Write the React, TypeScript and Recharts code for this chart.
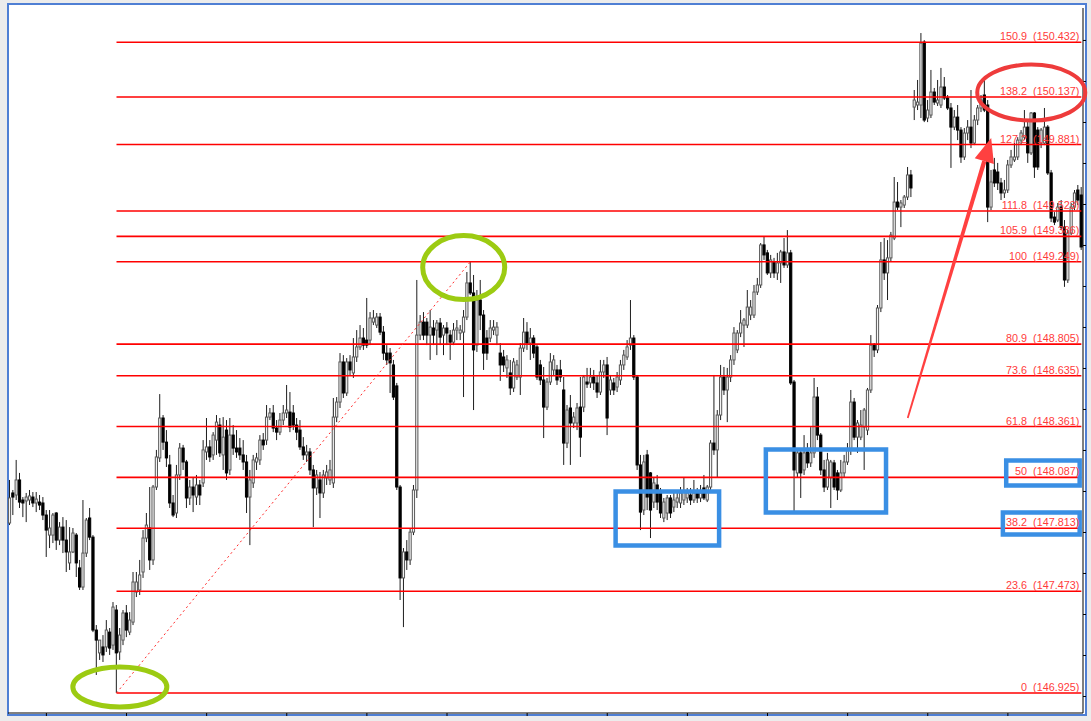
import React from 'react';
import { ComposedChart, Bar, XAxis, YAxis, ReferenceLine, ReferenceArea, ReferenceDot } from 'recharts';

// [open, high, low, close] per hourly candle
const candles: number[][] = [
[147.841,148.073,147.830,147.976],[148.003,148.019,147.884,147.981],[147.992,148.181,147.965,148.073],[148.073,148.111,147.922,147.954],
[147.965,147.981,147.873,147.949],[147.960,148.003,147.846,147.981],[147.965,148.019,147.938,147.987],[147.981,148.008,147.927,147.949],
[147.949,148.008,147.900,147.970],[147.954,147.992,147.911,147.938],[147.949,147.981,147.857,147.884],[147.884,147.911,147.658,147.803],
[147.776,147.911,147.706,147.814],[147.776,147.895,147.733,147.884],[147.895,147.900,147.696,147.749],[147.749,147.846,147.722,147.819],
[147.819,147.873,147.679,147.749],[147.749,147.857,147.577,147.685],[147.626,147.819,147.588,147.685],[147.685,147.814,147.679,147.787],
[147.776,147.787,147.550,147.626],[147.599,147.642,147.480,147.496],[147.496,147.965,147.480,147.679],[147.679,147.868,147.658,147.857],
[147.868,147.922,147.749,147.765],[147.765,147.776,147.253,147.264],[147.264,147.291,147.022,147.210],[147.141,147.173,147.103,147.210],
[147.173,147.237,147.092,147.130],[147.173,147.318,147.146,147.264],[147.253,147.275,147.130,147.167],[147.183,147.415,147.157,147.388],
[147.372,147.399,146.925,147.141],[147.146,147.275,147.103,147.237],[147.210,147.372,147.183,147.356],[147.356,147.399,147.226,147.264],
[147.253,147.361,147.237,147.318],[147.307,147.577,147.291,147.523],[147.469,147.577,147.442,147.523],[147.480,147.642,147.453,147.561],
[147.577,147.803,147.545,147.760],[147.760,147.895,147.738,147.830],[147.814,148.035,147.588,147.642],[147.642,148.046,147.615,148.035],
[148.035,148.235,148.019,148.197],[148.192,148.536,148.170,148.407],[148.407,148.423,148.235,148.277],[148.277,148.342,148.143,148.192],
[148.154,148.208,147.922,147.949],[147.949,147.992,147.873,147.884],[147.895,148.154,147.868,148.100],[148.100,148.272,148.073,148.245],
[148.245,148.262,148.127,148.170],[148.170,148.181,147.922,147.976],[147.976,148.073,147.938,148.035],[148.035,148.084,147.900,147.992],
[147.981,148.100,147.938,148.046],[148.046,148.073,147.938,147.992],[148.057,148.288,148.035,148.235],[148.224,148.407,148.181,148.251],
[148.251,148.288,148.170,148.197],[148.208,148.331,148.181,148.315],[148.288,148.423,148.208,148.385],[148.369,148.407,148.197,148.219],
[148.208,148.412,148.127,148.304],[148.342,148.396,148.073,148.111],[148.127,148.407,148.100,148.315],[148.315,148.369,148.208,148.245],
[148.245,148.342,148.192,148.224],[148.245,148.299,148.181,148.208],[148.208,148.288,148.127,148.170],[148.170,148.208,147.895,147.981],
[147.981,148.127,147.722,148.073],[148.057,148.208,148.030,148.181],[148.170,148.219,148.127,148.192],[148.181,148.315,148.154,148.288],
[148.288,148.326,148.235,148.262],[148.288,148.477,148.262,148.412],[148.412,148.461,148.396,148.434],[148.434,148.477,148.331,148.353],
[148.353,148.396,148.288,148.331],[148.331,148.434,148.315,148.396],[148.396,148.477,148.369,148.434],[148.434,148.585,148.407,148.450],
[148.439,148.547,148.331,148.358],[148.434,148.477,148.342,148.369],[148.369,148.407,148.288,148.331],[148.342,148.396,148.235,148.251],
[148.251,148.304,148.181,148.208],[148.208,148.262,148.170,148.224],[148.224,148.245,148.100,148.127],[148.127,148.154,147.819,148.030],
[148.030,148.127,147.992,148.100],[148.073,148.116,147.868,148.003],[148.003,148.127,147.976,148.100],[148.084,148.154,148.046,148.116],
[148.073,148.181,148.046,148.127],[148.057,148.515,148.030,148.412],[148.412,148.520,148.385,148.493],[148.493,148.757,148.461,148.709],
[148.709,148.746,148.515,148.542],[148.542,148.730,148.526,148.709],[148.709,148.746,148.639,148.666],[148.650,148.838,148.623,148.736],
[148.736,148.881,148.709,148.790],[148.790,148.908,148.774,148.838],[148.838,148.892,148.774,148.800],[148.827,149.054,148.784,148.800],
[148.827,148.978,148.800,148.946],[148.924,148.989,148.908,148.946],[148.908,148.973,148.892,148.951],[148.951,148.973,148.854,148.870],
[148.870,148.903,148.720,148.757],[148.757,148.800,148.693,148.720],[148.757,148.784,148.542,148.704],[148.693,148.720,148.504,148.520],
[148.580,148.596,148.019,148.035],[148.035,148.046,147.426,147.545],[147.545,147.706,147.280,147.685],[147.685,147.749,147.588,147.642],
[147.642,147.814,147.615,147.792],[147.792,148.046,147.776,148.019],[148.019,149.151,147.976,148.854],[148.854,148.962,148.827,148.924],
[148.924,148.978,148.827,148.854],[148.924,148.946,148.800,148.854],[148.854,148.989,148.720,148.897],[148.892,148.935,148.800,148.854],
[148.881,148.935,148.746,148.919],[148.919,148.946,148.800,148.843],[148.854,148.908,148.746,148.892],[148.892,148.924,148.800,148.865],
[148.854,148.881,148.720,148.816],[148.816,148.919,148.800,148.881],[148.881,148.935,148.827,148.892],[148.865,148.908,148.827,148.881],
[148.870,148.989,148.520,148.951],[148.951,149.194,148.935,149.135],[149.135,149.249,149.070,149.081],[149.081,149.178,148.450,148.774],
[148.800,149.097,148.763,149.043],[149.043,149.151,148.881,148.962],[148.962,148.989,148.666,148.757],[148.838,148.881,148.720,148.757],
[148.838,148.935,148.816,148.892],[148.881,148.935,148.854,148.897],[148.854,148.924,148.800,148.897],[148.757,148.811,148.607,148.693],
[148.736,148.774,148.655,148.693],[148.677,148.746,148.623,148.720],[148.650,148.720,148.531,148.569],[148.569,148.730,148.547,148.709],
[148.628,148.720,148.612,148.693],[148.628,148.811,148.531,148.784],[148.784,148.946,148.763,148.870],[148.870,148.924,148.774,148.811],
[148.811,148.892,148.720,148.838],[148.838,148.854,148.730,148.757],[148.790,148.800,148.612,148.628],[148.693,148.720,148.585,148.612],
[148.612,148.682,148.299,148.466],[148.466,148.623,148.450,148.601],[148.601,148.757,148.585,148.709],[148.666,148.746,148.639,148.720],
[148.666,148.693,148.585,148.612],[148.666,148.720,148.601,148.628],[148.558,148.628,148.154,148.272],[148.272,148.477,148.245,148.450],
[148.461,148.531,148.154,148.380],[148.380,148.439,148.353,148.412],[148.380,148.488,148.342,148.461],[148.466,148.628,148.197,148.304],
[148.466,148.639,148.439,148.628],[148.601,148.677,148.569,148.590],[148.596,148.677,148.569,148.628],[148.628,148.666,148.558,148.596],
[148.596,148.639,148.515,148.547],[148.547,148.720,148.531,148.655],[148.655,148.720,148.623,148.693],[148.693,148.736,148.315,148.407],
[148.558,148.639,148.531,148.612],[148.596,148.623,148.531,148.558],[148.574,148.655,148.547,148.628],[148.612,148.720,148.585,148.693],
[148.693,148.774,148.666,148.746],[148.736,148.827,148.720,148.790],[148.800,149.043,148.774,148.838],[148.838,148.854,148.612,148.628],
[148.628,148.639,148.127,148.154],[148.154,148.208,147.803,147.900],[147.911,148.208,147.884,148.170],[148.208,148.235,147.911,147.981],
[148.111,148.116,147.760,147.911],[147.954,148.084,147.922,148.057],[148.046,148.100,147.911,147.954],[148.003,148.030,147.868,147.895],
[147.868,147.976,147.846,147.954],[147.895,147.992,147.857,147.976],[147.976,147.992,147.868,147.895],[147.927,148.003,147.900,147.965],
[147.954,148.003,147.922,147.976],[147.949,148.035,147.922,148.003],[147.965,148.084,147.938,148.008],[147.976,148.030,147.949,148.003],
[147.992,148.030,147.938,147.965],[147.965,148.073,147.949,148.003],[148.003,148.030,147.949,147.976],[147.976,148.046,147.954,148.003],
[148.030,148.100,147.965,147.976],[147.965,148.046,147.954,148.035],[148.035,148.288,148.019,148.272],[148.272,148.639,148.208,148.235],
[148.235,148.450,148.089,148.423],[148.423,148.693,148.396,148.628],[148.628,148.682,148.531,148.558],[148.558,148.677,148.385,148.628],
[148.628,148.746,148.601,148.720],[148.720,148.897,148.693,148.865],[148.774,148.881,148.757,148.865],[148.865,148.989,148.843,148.919],
[148.908,148.946,148.790,148.935],[148.908,149.097,148.892,149.005],[148.962,149.043,148.935,149.005],[148.962,149.124,148.946,149.086],
[149.086,149.162,149.070,149.124],[149.124,149.350,149.108,149.340],[149.340,149.383,149.259,149.286],[149.297,149.313,149.178,149.189],
[149.189,149.286,149.162,149.259],[149.248,149.270,149.162,149.189],[149.189,149.297,149.151,149.243],[149.243,149.313,149.135,149.302],
[149.302,149.377,149.216,149.232],[149.232,149.420,149.216,149.297],[149.297,149.313,148.585,148.596],[148.601,148.612,147.895,148.127],
[148.111,148.235,148.084,148.219],[148.219,148.235,147.976,148.111],[148.127,148.315,148.100,148.219],[148.224,148.272,148.138,148.165],
[148.165,148.358,148.143,148.219],[148.219,148.623,148.192,148.520],[148.520,148.574,148.288,148.315],[148.315,148.326,148.100,148.127],
[148.127,148.181,148.008,148.035],[148.035,148.219,148.019,148.181],[148.084,148.181,147.922,148.170],[148.165,148.181,148.019,148.035],
[148.111,148.127,147.965,148.019],[148.019,148.181,148.008,148.111],[148.111,148.208,148.084,148.170],[148.170,148.272,148.154,148.235],
[148.235,148.558,148.208,148.493],[148.493,148.515,148.288,148.304],[148.304,148.396,148.219,148.380],[148.304,148.450,148.288,148.369],
[148.358,148.461,148.127,148.450],[148.342,148.569,148.315,148.558],[148.558,148.854,148.542,148.800],[148.800,148.811,148.736,148.774],
[148.774,149.016,148.757,149.000],[149.000,149.356,148.978,149.259],[149.259,149.377,149.151,149.189],[149.189,149.366,149.043,149.270],
[149.270,149.410,149.248,149.393],[149.377,149.706,149.366,149.571],[149.571,149.679,149.528,149.544],[149.544,149.582,149.436,149.566],
[149.555,149.609,149.539,149.598],[149.598,149.760,149.582,149.717],[149.717,149.744,149.598,149.647],[150.083,150.175,150.013,150.121],
[150.094,150.229,150.067,150.110],[150.094,150.482,150.024,150.428],[150.433,150.444,150.002,150.013],[150.024,150.121,150.002,150.067],
[150.040,150.283,150.024,150.164],[150.164,150.186,150.094,150.110],[150.105,150.229,150.089,150.121],[150.094,150.294,150.078,150.191],
[150.191,150.245,150.121,150.132],[150.132,150.148,150.067,150.078],[150.078,150.105,149.755,149.975],[149.975,150.067,149.959,150.029],
[150.029,150.094,149.905,149.959],[149.959,149.975,149.782,149.814],[149.814,149.970,149.798,149.943],[149.943,150.013,149.905,149.975],
[149.975,150.175,149.862,149.889],[149.889,150.040,149.878,150.013],[150.013,150.094,149.986,150.078],[150.078,150.148,150.056,150.121],
[150.148,150.245,150.056,150.067],[150.094,150.121,149.463,149.544],[149.544,149.744,149.528,149.679],[149.744,149.809,149.652,149.674],
[149.733,149.782,149.636,149.674],[149.674,149.701,149.582,149.620],[149.620,149.690,149.593,149.636],[149.636,149.798,149.620,149.771],
[149.771,149.852,149.755,149.814],[149.798,149.889,149.787,149.814],[149.814,149.921,149.798,149.905],[149.905,149.959,149.878,149.943],
[149.921,150.067,149.905,149.975],[149.975,150.013,149.782,149.836],[149.836,150.056,149.825,150.051],[150.051,150.056,149.701,149.760],
[149.959,149.975,149.744,149.760],[149.889,149.970,149.862,149.959],[149.889,150.078,149.878,149.975],[149.975,149.986,149.717,149.728],
[149.728,149.744,149.463,149.485],[149.490,149.517,149.447,149.463],[149.474,149.566,149.463,149.544],[149.544,149.582,149.420,149.436],
[149.436,149.474,149.114,149.151],[149.151,149.420,149.135,149.404],[149.404,149.566,149.393,149.544],[149.544,149.636,149.528,149.620],
[149.636,149.663,149.555,149.582],[149.609,149.652,149.313,149.329],
];

const fibPrices = [146.925, 147.473, 147.813, 148.087, 148.361, 148.635, 148.805, 149.249, 149.386, 149.523, 149.881, 150.137, 150.432];
const fibRatios = ['0', '23.6', '38.2', '50', '61.8', '73.6', '80.9', '100', '105.9', '111.8', '127.2', '138.2', '150.9'];
const swingLowIndex = 32;
const swingLowPrice = 146.925;
const swingHighIndex = 138;
const swingHighPrice = 149.249;
const fibEndIndex = 321;

const dayTicks = [11, 35, 59, 83, 107, 131, 155, 179, 203, 227, 251, 275, 299];
const priceTicks = [150.442, 150.221, 150.0, 149.779, 149.558, 149.337, 149.116, 148.895, 148.674, 148.453, 148.232, 148.011, 147.79, 147.569, 147.348, 147.127, 146.906];
const priceDomain = [146.817, 150.617];

const boxStart = [182, 227, 299, 298];
const boxEnd = [212, 262, 320, 320];
const boxLow = [147.720, 147.898, 148.043, 147.779];
const boxHigh = [148.011, 148.237, 148.178, 147.898];

const markIndex = [33, 136, 306];
const markPrice = [146.957, 149.218, 150.161];
const markColor = ['#9ccb12', '#9ccb12', '#ee3b3b'];
const markRx = [47, 41, 54];
const markRy = [20, 32, 28];

const arrowFromIndex = 269;
const arrowFromPrice = 148.407;
const arrowToIndex = 294;
const arrowToPrice = 149.916;

const Candle = (props: any) => {
  const { x, y, width, height } = props;
  const d = props.payload || props;
  const { o, h, l, c } = d;
  if (x == null || y == null) return null;
  const top = Math.min(y, y + height);
  const bot = Math.max(y, y + height);
  const span = h - l || 1;
  const py = (p: number) => top + ((h - p) / span) * (bot - top);
  const cx = x + width / 2;
  const bull = c >= o;
  const bTop = py(Math.max(o, c));
  const bBot = py(Math.min(o, c));
  const bw = 2.2;
  return (
    <g>
      <line x1={cx} x2={cx} y1={top} y2={bot} stroke="#1e1e1e" strokeWidth={1} />
      <rect x={cx - bw / 2} y={bTop} width={bw} height={Math.max(bBot - bTop, 0.8)}
        fill={bull ? '#f4f4f4' : '#000000'} stroke={bull ? '#5a5a5a' : '#000000'} strokeWidth={1} />
    </g>
  );
};

const Arrow = (p: any) => {
  const { x1, y1, x2, y2 } = p;
  const dx = x2 - x1, dy = y2 - y1;
  const len = Math.hypot(dx, dy) || 1;
  const ux = dx / len, uy = dy / len;
  const nx = -uy, ny = ux;
  const headLen = 24, headW = 10, w0 = 0.9, w1 = 2.2;
  const bx = x2 - ux * headLen, by = y2 - uy * headLen;
  const shaft = [
    [x1 + nx * w0, y1 + ny * w0], [bx + nx * w1, by + ny * w1],
    [bx - nx * w1, by - ny * w1], [x1 - nx * w0, y1 - ny * w0],
  ].map((q) => q.join(',')).join(' ');
  const head = [[x2, y2], [bx + nx * headW, by + ny * headW], [bx - nx * headW, by - ny * headW]]
    .map((q) => q.join(',')).join(' ');
  return (
    <g>
      <polygon points={shaft} fill="#ff4040" />
      <polygon points={head} fill="#ff4040" />
    </g>
  );
};

export default function App() {
  const data = candles.map(([o, h, l, c], i) => ({ i, o, h, l, c, range: [l, h] }));
  return (
    <div style={{ position: 'absolute', left: 0, top: 0, width: 1091, height: 721, background: '#ececec', overflow: 'hidden' }}>
      <div style={{ position: 'absolute', left: 7, top: 3, width: 1080, height: 713, boxSizing: 'border-box', border: '2px solid #4f7fd4', background: '#ffffff' }} />
      <div style={{ position: 'absolute', left: 0, top: 0 }}>
        <ComposedChart width={1091} height={721} data={data} margin={{ top: 8, right: 3, bottom: 3, left: 8 }} barCategoryGap={0} barGap={0}>
          <XAxis dataKey="i" type="category" ticks={dayTicks} interval={0} height={5} tickSize={3}
            tickFormatter={() => ''} axisLine={{ stroke: '#000' }} tickLine={{ stroke: '#000' }} />
          <YAxis orientation="right" type="number" domain={priceDomain} allowDataOverflow ticks={priceTicks} width={5} tickSize={3}
            tickFormatter={() => ''} axisLine={{ stroke: '#000' }} tickLine={{ stroke: '#000' }} />
          <Bar dataKey="range" isAnimationActive={false} shape={(p: any) => <Candle {...p} />} />
          {fibPrices.map((p, k) => (
            <ReferenceLine key={'f' + k} segment={[{ x: swingLowIndex, y: p }, { x: fibEndIndex, y: p }]}
              stroke="#ff0000" strokeWidth={1.6} ifOverflow="visible" zIndex={400}
              label={{ value: `${fibRatios[k]}\u00a0 (${p.toFixed(3)})`, position: 'insideBottomRight', offset: 2,
                fill: '#ff3b3b', fontSize: 10.8, fontFamily: 'Liberation Sans' }} />
          ))}
          <ReferenceLine segment={[{ x: swingLowIndex, y: swingLowPrice }, { x: swingHighIndex, y: swingHighPrice }]}
            stroke="#ff2a2a" strokeWidth={1} strokeDasharray="2 3" ifOverflow="visible" zIndex={410} />
          {boxStart.map((s, k) => (
            <ReferenceArea key={'b' + k} x1={s} x2={boxEnd[k]} y1={boxLow[k]} y2={boxHigh[k]}
              fill="none" fillOpacity={0} stroke="#3a8fe4" strokeWidth={4.5} ifOverflow="visible" zIndex={500} />
          ))}
          {markIndex.map((m, k) => (
            <ReferenceDot key={'m' + k} x={m} y={markPrice[k]} r={1} ifOverflow="visible" zIndex={600}
              shape={(p: any) => (
                <ellipse cx={p.cx} cy={p.cy} rx={markRx[k]} ry={markRy[k]} fill="none" stroke={markColor[k]} strokeWidth={k < 2 ? 5 : 4} />
              )} />
          ))}
          <ReferenceLine segment={[{ x: arrowFromIndex, y: arrowFromPrice }, { x: arrowToIndex, y: arrowToPrice }]}
            ifOverflow="visible" zIndex={700} shape={(p: any) => <Arrow {...p} />} />
        </ComposedChart>
      </div>
    </div>
  );
}
